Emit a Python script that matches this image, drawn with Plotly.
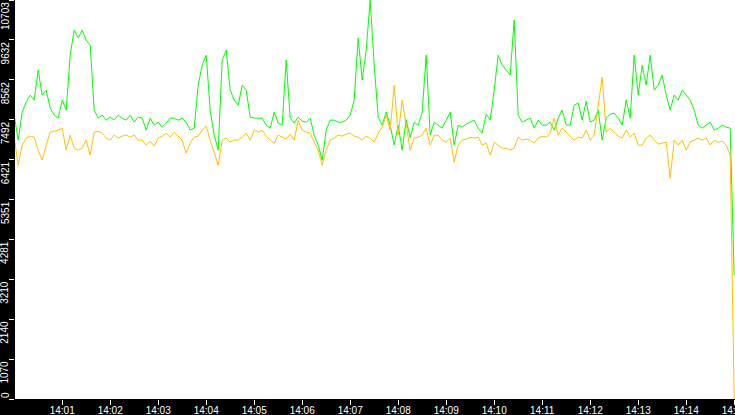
import pandas as pd
import plotly.graph_objects as go

# samples every 5 s from 14:00:00 to 14:15:00
times = pd.date_range("2024-01-01 14:00:00", "2024-01-01 14:15:00", freq="5s")

green_values = [
    7615, 6944, 7696, 7963, 8152, 8017, 8822, 8152, 8286, 7802, 7615, 7534, 8017, 7749, 9225, 9896,
    9681, 9896, 9627, 9493, 7749, 7534, 7615, 7480, 7561, 7480, 7615, 7534, 7480, 7615, 7426, 7561,
    7534, 7212, 7534, 7346, 7426, 7292, 7400, 7534, 7534, 7480, 7534, 7426, 7212, 7265,
    8420, 8956, 9225, 7749, 7078, 6675, 9090, 9359, 8286, 8017, 7882, 8420, 8286, 7561, 7534, 7534,
    7534, 7346, 7265, 7696, 7400, 7346, 9090, 7534, 7400, 7561, 7453, 7426, 7534, 7078, 6810, 6407,
    7212, 7480, 7480, 7426,
    7426, 7480, 7615, 8017, 9681, 8554, 9359, 10703, 8956, 7561, 7346, 7696, 7346, 6810, 7346, 6675,
    7480, 7011, 7426, 7346, 7696, 9225, 7078, 7426, 7346,
    7265, 7480, 7696, 6810, 7346, 7292, 7373,
    7426, 7480, 7265, 7131, 7642, 7480, 8286, 9225, 8956, 8822, 8688, 10165, 7615, 7426, 7480, 7534,
    7265, 7480, 7346, 7346, 7426, 7212, 7534, 7749, 7346,
    7346, 7882, 7937, 7480, 7990, 7426, 7480, 7749, 6944, 7534, 7642, 7669, 7534, 7346, 8017, 7534,
    9225, 8152, 8956, 8420, 9225, 8286, 8420, 8688,
    8152, 7749, 8152, 8017, 8286, 8152, 8017, 7749, 7346, 7265, 7346, 7426, 7212, 7265, 7346, 7292,
    7265, 3314,
]

orange_values = [
    7024, 6273, 6810, 6998, 7051, 7024, 6675, 6407, 6810, 7158, 7185, 7212, 7265, 6675, 7078, 6729,
    6675, 6729, 6944, 6541, 7158, 7185, 7131, 6998, 6944, 7078, 6998, 7051, 7078, 7024, 7078, 6944,
    6944, 6810, 6917, 6783, 6998, 7051, 7131, 7024, 7158, 7051, 6944, 6595, 6863, 7024,
    7051, 7212, 7319, 6944, 6622, 6273, 6944, 6998, 6890, 6944, 6944, 7024, 7131, 6944, 7212, 7158,
    7212, 7051, 6944, 6863, 7078, 7024, 6971, 7104, 6944, 7480, 7212, 7158, 7131, 6890, 6675, 6273,
    6675, 6944, 6998, 7078,
    7051, 7104, 7131, 7051, 7024, 6944, 7051, 6998, 6890, 7131, 7292, 7615, 7212, 8420, 7078, 8017,
    7346, 6675, 6998, 7024, 7078, 7265, 6810, 7078, 7078,
    6944, 6890, 6998, 6353, 6810, 6944, 6971,
    7024, 6998, 7024, 6810, 6863, 6541, 6890, 6810, 6729, 6729, 6675, 6729, 7024, 6944, 6971, 6944,
    6863, 6998, 7051, 7024, 7131, 7534, 7078, 7265, 7158,
    7078, 6944, 7024, 6998, 7212, 6944, 7078, 7882, 8634, 7158, 7265, 7158, 7051, 6998, 7212, 7024,
    7131, 6810, 6810, 6998, 7078, 6944, 6836, 6863,
    6890, 5924, 6944, 6810, 6944, 6675, 6890, 6944, 6998, 6944, 6998, 6810, 6944, 6890, 6917, 6810,
    6541, 0,
]

y_ticks = [0, 1070, 2140, 3210, 4281, 5351, 6421, 7492, 8562, 9632, 10703]

fig = go.Figure()
fig.add_trace(
    go.Scatter(
        x=times,
        y=green_values,
        mode="lines",
        line=dict(color="#00ff00", width=1),
        name="green",
    )
)
fig.add_trace(
    go.Scatter(
        x=times,
        y=orange_values,
        mode="lines",
        line=dict(color="#ffc000", width=1),
        name="orange",
    )
)

# rotated y labels sit just under their tick
for v in y_ticks:
    fig.add_annotation(
        text=str(v),
        xref="paper",
        x=0,
        xanchor="center",
        xshift=-10,
        yref="y",
        y=v,
        yanchor="bottom" if v == 0 else "top",
        yshift=0 if v == 0 else -1,
        textangle=-90,
        showarrow=False,
        borderpad=0,
        font=dict(family="Liberation Sans", size=10, color="white"),
    )

fig.update_layout(
    width=735,
    height=415,
    margin=dict(l=15, r=0, t=0, b=16, autoexpand=False),
    paper_bgcolor="black",
    plot_bgcolor="white",
    showlegend=False,
    font=dict(family="Liberation Sans", size=10, color="white"),
)
fig.update_xaxes(
    range=["2024-01-01 14:00:01", "2024-01-01 14:15:01"],
    tickformat="%H:%M",
    dtick=60000,
    tick0="2024-01-01 14:00:00",
    ticks="outside",
    ticklen=5,
    tickcolor="white",
    ticklabelstandoff=-3,
    ticklabeloverflow="allow",
    automargin=False,
    showgrid=False,
    zeroline=False,
    showline=False,
)
fig.update_yaxes(
    range=[0, 10703],
    tickvals=y_ticks,
    showticklabels=False,
    ticks="outside",
    ticklen=5,
    tickcolor="white",
    automargin=False,
    showgrid=False,
    zeroline=False,
    showline=False,
)

# page body margin would shift the figure by 8 px
fig.write_html(
    "out.html",
    config={"displayModeBar": False},
    post_script="document.body.style.margin='0';",
)
